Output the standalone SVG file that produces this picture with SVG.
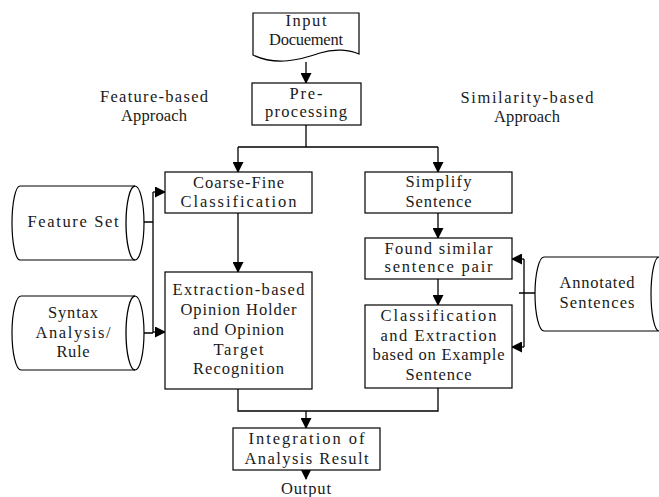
<svg xmlns="http://www.w3.org/2000/svg" width="659" height="497" viewBox="0 0 659 497">
<style>
.s{fill:#fff;stroke:#000;stroke-width:1.2}
.c{fill:none;stroke:#000;stroke-width:1.3}
.a{fill:#000;stroke:none}
text{font-family:"Liberation Serif","DejaVu Serif",serif;font-size:16.5px;fill:#1a1a1a;text-anchor:middle}
</style>
<defs>
<marker id="ah" markerWidth="11" markerHeight="11" refX="10" refY="5.5" orient="auto" markerUnits="userSpaceOnUse" viewBox="0 0 11 11">
<path d="M0,0 L11,5.5 L0,11 Z" class="a"/>
</marker>
</defs>
<rect width="659" height="497" fill="#fff"/>

<g id="connectors">
<path class="c" d="M306,62 V83" marker-end="url(#ah)"/>
<path class="c" d="M306,125 V147 M238,147 H438"/>
<path class="c" d="M238,147 V172" marker-end="url(#ah)"/>
<path class="c" d="M438,147 V172" marker-end="url(#ah)"/>
<path class="c" d="M238,213 V272" marker-end="url(#ah)"/>
<path class="c" d="M438,213 V238" marker-end="url(#ah)"/>
<path class="c" d="M438,279 V305" marker-end="url(#ah)"/>
<path class="c" d="M144,222 H153 M144,333 H153 M153,192 V333"/>
<path class="c" d="M153,192 H165" marker-end="url(#ah)"/>
<path class="c" d="M153,332 H165" marker-end="url(#ah)"/>
<path class="c" d="M535,293 H519 M524,259 V347"/>
<path class="c" d="M524,259 H512" marker-end="url(#ah)"/>
<path class="c" d="M524,347 H512" marker-end="url(#ah)"/>
<path class="c" d="M238,389 V411 H438 V388"/>
<path class="c" d="M306,411 V428" marker-end="url(#ah)"/>
<path class="c" d="M306,470 V479" marker-end="url(#ah)"/>
</g>

<g id="input-document">
<path class="s" d="M253,13 H359 V54 C350,50 335,48 320,53 C300,60 276,66 253,55 Z"/>
<text x="306" y="26" textLength="41" lengthAdjust="spacing">Input</text>
<text x="306" y="45" textLength="74" lengthAdjust="spacing">Docuement</text>
</g>

<g id="pre-processing">
<rect class="s" x="252" y="83" width="109" height="42"/>
<text x="306" y="99" textLength="33" lengthAdjust="spacing">Pre-</text>
<text x="306" y="117" textLength="82" lengthAdjust="spacing">processing</text>
</g>

<g id="label-feature">
<text x="154" y="102" textLength="108" lengthAdjust="spacing">Feature-based</text>
<text x="154" y="121" textLength="66" lengthAdjust="spacing">Approach</text>
</g>

<g id="label-similarity">
<text x="527" y="103" textLength="133" lengthAdjust="spacing">Similarity-based</text>
<text x="527" y="122" textLength="66" lengthAdjust="spacing">Approach</text>
</g>

<g id="coarse-fine">
<rect class="s" x="165" y="172" width="147" height="41"/>
<text x="238.5" y="188" textLength="91" lengthAdjust="spacing">Coarse-Fine</text>
<text x="238.5" y="207" textLength="116" lengthAdjust="spacing">Classification</text>
</g>

<g id="extraction">
<rect class="s" x="165" y="272" width="147" height="117"/>
<text x="238.5" y="295" textLength="132" lengthAdjust="spacing">Extraction-based</text>
<text x="238.5" y="315" textLength="116" lengthAdjust="spacing">Opinion Holder</text>
<text x="238.5" y="335" textLength="91" lengthAdjust="spacing">and Opinion</text>
<text x="238.5" y="355" textLength="50" lengthAdjust="spacing">Target</text>
<text x="238.5" y="374" textLength="91" lengthAdjust="spacing">Recognition</text>
</g>

<g id="feature-set">
<path class="s" d="M20,186 H135 A9,37 0 0 1 135,260 H20 A8,37 0 0 1 20,186 Z"/>
<path class="c" d="M135,186 A9,37 0 0 0 135,260"/>
<text x="73" y="227" textLength="91" lengthAdjust="spacing">Feature Set</text>
</g>

<g id="syntax-rule">
<path class="s" d="M21,296 H135 A9,37 0 0 1 135,370 H21 A9,37 0 0 1 21,296 Z"/>
<path class="c" d="M135,296 A9,37 0 0 0 135,370"/>
<text x="73" y="318" textLength="50" lengthAdjust="spacing">Syntax</text>
<text x="73" y="338" textLength="75" lengthAdjust="spacing">Analysis/</text>
<text x="73" y="357" textLength="33" lengthAdjust="spacing">Rule</text>
</g>

<g id="simplify">
<rect class="s" x="365" y="172" width="147" height="41"/>
<text x="438.5" y="187" textLength="66" lengthAdjust="spacing">Simplify</text>
<text x="438.5" y="207" textLength="66" lengthAdjust="spacing">Sentence</text>
</g>

<g id="found-similar">
<rect class="s" x="365" y="238" width="147" height="41"/>
<text x="438.5" y="254" textLength="108" lengthAdjust="spacing">Found similar</text>
<text x="438.5" y="272" textLength="108" lengthAdjust="spacing">sentence pair</text>
</g>

<g id="classification-extraction">
<rect class="s" x="365" y="305" width="147" height="83"/>
<text x="438.5" y="321" textLength="116" lengthAdjust="spacing">Classification</text>
<text x="438.5" y="341" textLength="116" lengthAdjust="spacing">and Extraction</text>
<text x="438.5" y="360" textLength="132" lengthAdjust="spacing">based on Example</text>
<text x="438.5" y="380" textLength="66" lengthAdjust="spacing">Sentence</text>
</g>

<g id="annotated-sentences">
<path class="s" d="M544,257 H659 A8,37 0 0 0 659,331 H544 A9,37 0 0 1 544,257 Z"/>
<text x="597" y="288" textLength="75" lengthAdjust="spacing">Annotated</text>
<text x="597" y="308" textLength="75" lengthAdjust="spacing">Sentences</text>
</g>

<g id="integration">
<rect class="s" x="233" y="428" width="147" height="42"/>
<text x="306.5" y="444" textLength="116" lengthAdjust="spacing">Integration of</text>
<text x="306.5" y="464" textLength="124" lengthAdjust="spacing">Analysis Result</text>
</g>

<g id="output">
<text x="306" y="494" textLength="50" lengthAdjust="spacing">Output</text>
</g>
</svg>
